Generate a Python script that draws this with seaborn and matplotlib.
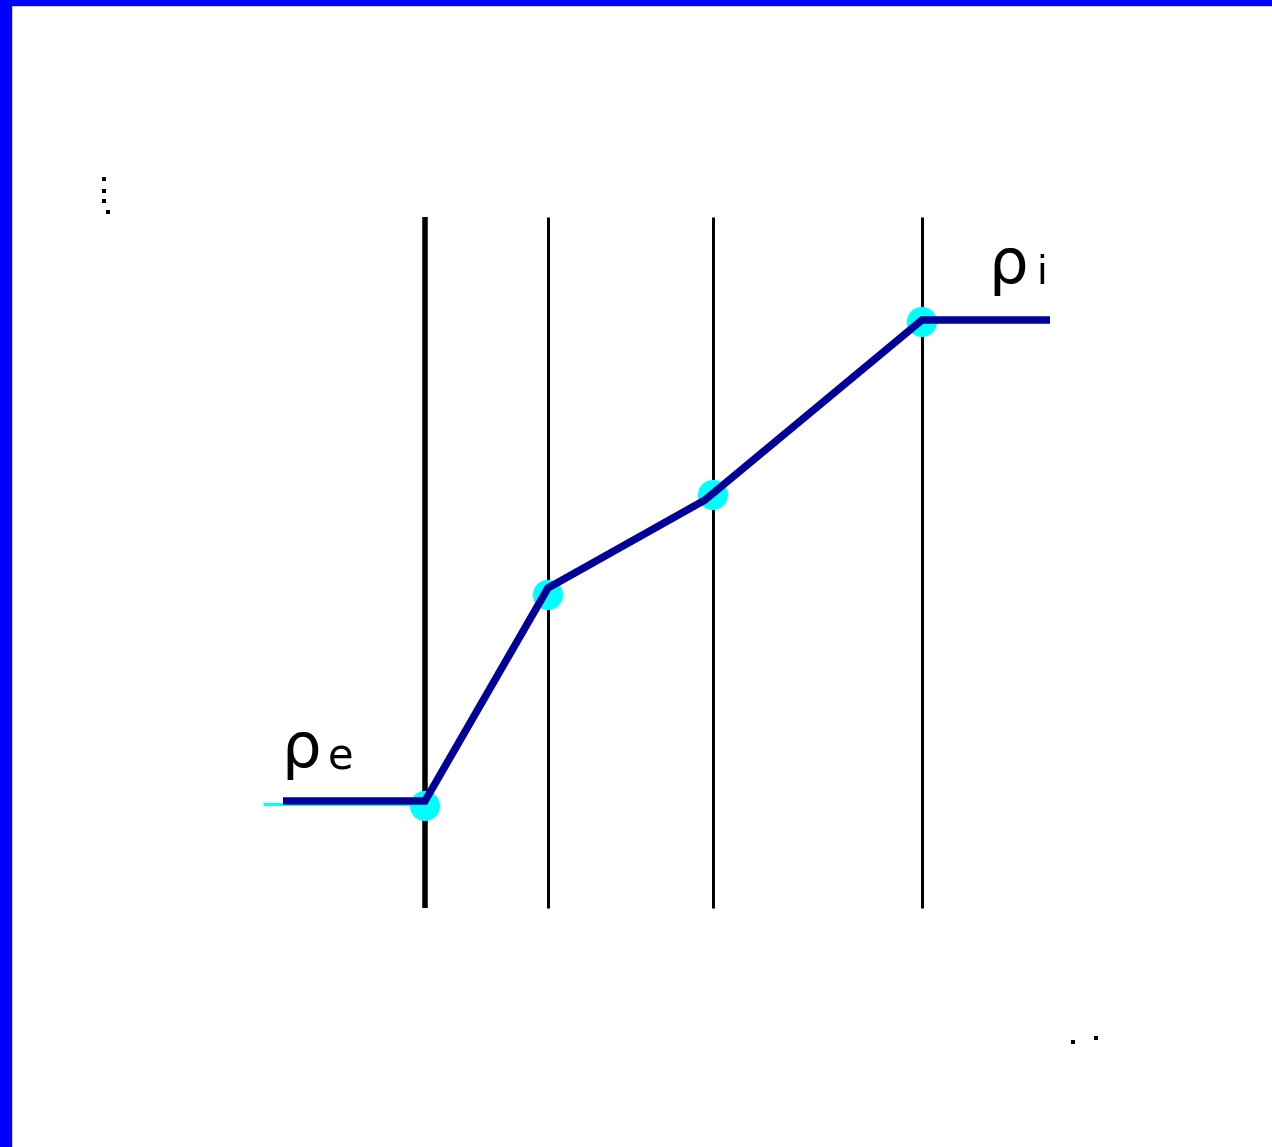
import matplotlib
matplotlib.use("Agg")
import matplotlib.pyplot as plt
import seaborn as sns
import pandas as pd
from matplotlib.patches import Rectangle

# Data (picture units: x to the right, y downward)
profile_x = [283, 425, 548, 705, 922, 1050]
profile_y = [801, 801, 588, 500, 320, 320]
knot_x = [425, 548, 713, 922]
knot_y = [806, 595, 495, 322]
boundary_x = [425, 548, 713, 922]
boundary_w = [5.5, 3, 3, 3]
boundary_top = 217
boundary_bottom = 908
dots_x = [104, 104, 104, 108, 1073, 1096]
dots_y = [179, 191, 201, 212, 1042, 1038]

sns.set_theme(style="white")
plt.rcParams['font.family'] = ['DejaVu Sans']

W, H = 1272, 1147
fig = plt.figure(figsize=(W / 100, H / 100), dpi=100)
ax = fig.add_axes([0, 0, 1, 1])
ax.set_xlim(0, W)
ax.set_ylim(H, 0)
ax.axis("off")

# layer boundaries
for bx, bw in zip(boundary_x, boundary_w):
    ax.vlines(bx, boundary_top, boundary_bottom, color="black", linewidth=bw * 0.72)

# cyan under-line and markers
ax.plot([263, 425], [804, 804], color="#00FFFF", linewidth=2.2, solid_capstyle="butt")
sns.scatterplot(x=knot_x, y=knot_y, ax=ax, color="#00FFFF", s=470, marker="o",
                edgecolor="none", zorder=3)

# navy density profile
df = pd.DataFrame({"x": profile_x, "y": profile_y})
sns.lineplot(data=df, x="x", y="y", ax=ax, sort=False, color="#000099",
             linewidth=5.4, zorder=4)
ax.lines[-1].set_solid_joinstyle("miter")
ax.lines[-1].set_solid_capstyle("butt")

# labels
ax.text(281, 767, "ρ", fontsize=45, color="black", ha="left", va="baseline")
ax.text(328, 770, "e", fontsize=30, color="black", ha="left", va="baseline")
ax.text(988, 283, "ρ", fontsize=45, color="black", ha="left", va="baseline")
ax.text(1036, 284, "i", fontsize=28, color="black", ha="left", va="baseline")

# small dots
sns.scatterplot(x=dots_x, y=dots_y, ax=ax, color="black", s=12, marker="s",
                edgecolor="none", zorder=5)

# blue frame (top and left)
fig.add_artist(Rectangle((0, 1 - 5 / H), 1, 5 / H, transform=fig.transFigure,
                         color="#0000FF", zorder=10))
fig.add_artist(Rectangle((0, 0), 10.5 / W, 1, transform=fig.transFigure,
                         color="#0000FF", zorder=10))

fig.savefig("out.png", dpi=100)
